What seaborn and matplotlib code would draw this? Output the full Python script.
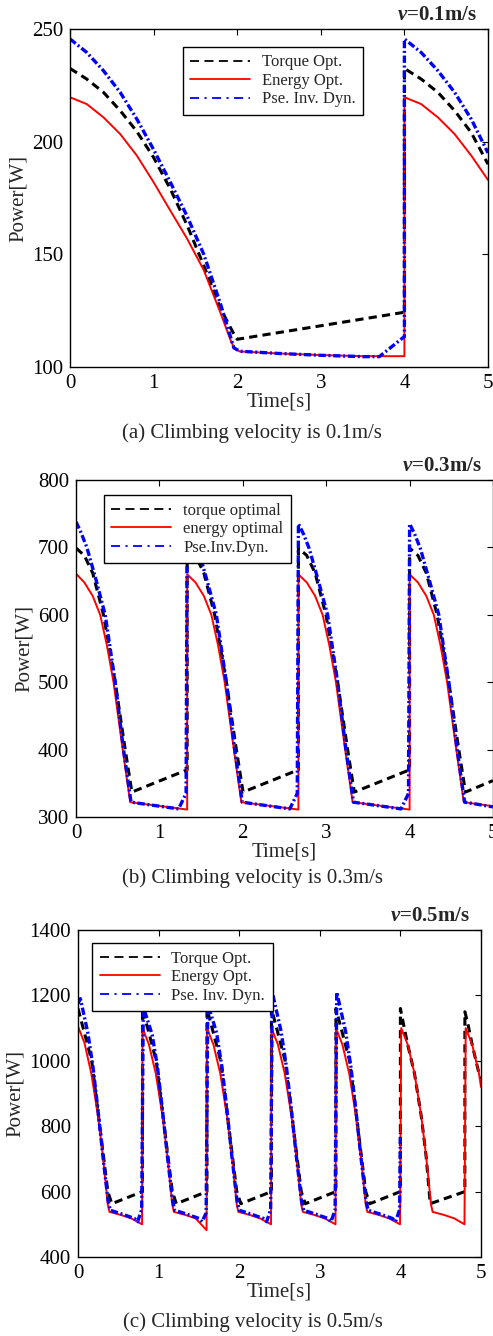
import numpy as np
import pandas as pd
import matplotlib
matplotlib.use("Agg")
import matplotlib.pyplot as plt
import seaborn as sns

# ---- data ----
# (a) v = 0.1 m/s
t1_torque = [0, 0.2, 0.4, 0.6, 0.8, 1.0, 1.2, 1.4, 1.6, 1.8, 1.97, 2.0, 4.0,
             4.0, 4.2, 4.4, 4.6, 4.8, 5.0]
p1_torque = [232.5, 227.8, 221.9, 213.8, 204.5, 193, 179, 163, 145, 126, 113.9, 112.3, 124.3,
             232.5, 227.8, 221.9, 213.8, 204, 190]
t1_energy = [0, 0.2, 0.4, 0.6, 0.8, 1.0, 1.2, 1.4, 1.6, 1.8, 1.93, 1.97, 2.03, 2.5, 3.0, 3.5, 4.0,
             4.0, 4.2, 4.4, 4.6, 4.8, 5.0]
p1_energy = [219.7, 216.7, 210.8, 203.4, 193.8, 182, 169.4, 157, 143, 124, 111, 108.2, 106.9, 106, 105.3, 104.8, 104.8,
             219.7, 216.7, 210.8, 203.4, 193.8, 183]
t1_pseudo = [0, 0.2, 0.4, 0.6, 0.8, 1.0, 1.2, 1.4, 1.6, 1.8, 1.96, 2.03, 2.5, 3.0, 3.5, 3.7, 4.0,
             4.0, 4.2, 4.4, 4.6, 4.8, 5.0]
p1_pseudo = [245.6, 239.6, 231.5, 221.9, 210, 196.5, 182, 167, 150, 128, 108.5, 107, 106, 105.2, 104.6, 104.6, 113.5,
             245.6, 239.6, 231.5, 221.9, 210, 195]

# (b) v = 0.3 m/s
t2_torque = [0, 0.1, 0.2, 0.33, 0.47, 0.59, 0.67, 1.333,
             1.333, 1.433, 1.533, 1.663, 1.803, 1.923, 2.003, 2.667,
             2.667, 2.767, 2.867, 2.997, 3.137, 3.257, 3.337, 4.0,
             4.0, 4.1, 4.2, 4.33, 4.47, 4.59, 4.67, 5.0]
p2_torque = [699, 688, 662, 600, 500, 400, 337, 370,
             699, 688, 662, 600, 500, 400, 337, 370,
             699, 688, 662, 600, 500, 400, 337, 370,
             699, 688, 662, 600, 500, 400, 337, 354]
t2_energy = [0, 0.1, 0.2, 0.29, 0.37, 0.45, 0.56, 0.65, 1.333,
             1.333, 1.433, 1.533, 1.623, 1.703, 1.783, 1.893, 1.983, 2.667,
             2.667, 2.767, 2.867, 2.957, 3.037, 3.117, 3.227, 3.317, 4.0,
             4.0, 4.1, 4.2, 4.29, 4.37, 4.45, 4.56, 4.65, 5.0]
p2_energy = [661, 648, 628, 600, 555, 500, 400, 322, 311,
             660, 648, 628, 600, 555, 500, 400, 322, 311,
             660, 648, 628, 600, 555, 500, 400, 322, 311,
             660, 648, 628, 600, 555, 500, 400, 322, 316]
t2_pseudo = [0, 0.06, 0.13, 0.24, 0.35, 0.47, 0.57, 0.66, 1.23, 1.32,
             1.333, 1.393, 1.463, 1.573, 1.683, 1.803, 1.903, 1.993, 2.563, 2.653,
             2.667, 2.727, 2.797, 2.907, 3.017, 3.137, 3.237, 3.327, 3.897, 3.987,
             4.0, 4.06, 4.13, 4.24, 4.35, 4.47, 4.57, 4.66, 5.0]
p2_pseudo = [738, 722, 700, 652, 600, 500, 400, 322, 312, 335,
             735, 720, 698, 650, 600, 500, 400, 322, 312, 335,
             735, 720, 698, 650, 600, 500, 400, 322, 312, 335,
             735, 720, 698, 650, 600, 500, 400, 322, 315]

# (c) v = 0.5 m/s
t3_torque = [0, 0.08, 0.17, 0.27, 0.37, 0.42, 0.80,
             0.80, 0.88, 0.97, 1.07, 1.17, 1.22, 1.60,
             1.60, 1.68, 1.77, 1.87, 1.97, 2.02, 2.40,
             2.40, 2.48, 2.57, 2.67, 2.77, 2.82, 3.20,
             3.20, 3.28, 3.37, 3.47, 3.57, 3.62, 4.00,
             4.00, 4.04, 4.09, 4.175, 4.26, 4.32, 4.37, 4.80,
             4.80, 4.84, 4.89, 4.975, 5.00]
p3_torque = [1160, 1085, 1000, 800, 600, 563, 600,
             1160, 1085, 1000, 800, 600, 563, 600,
             1160, 1085, 1000, 800, 600, 563, 600,
             1160, 1085, 1000, 800, 600, 563, 600,
             1160, 1085, 1000, 800, 600, 563, 600,
             1160, 1110, 1050, 961, 829, 706, 563, 600,
             1150, 1110, 1050, 961, 945]
t3_energy = [0, 0.08, 0.165, 0.25, 0.31, 0.37, 0.39, 0.54, 0.66, 0.795,
             0.80, 0.88, 0.965, 1.05, 1.11, 1.17, 1.19, 1.34, 1.46, 1.595,
             1.60, 1.68, 1.765, 1.85, 1.91, 1.97, 1.99, 2.14, 2.26, 2.395,
             2.40, 2.48, 2.565, 2.65, 2.71, 2.77, 2.79, 2.94, 3.06, 3.195,
             3.20, 3.28, 3.365, 3.45, 3.51, 3.57, 3.59, 3.74, 3.86, 3.995,
             4.01, 4.09, 4.175, 4.26, 4.32, 4.38, 4.40, 4.55, 4.67, 4.795,
             4.81, 4.89, 4.975, 5.00]
p3_energy = [1105, 1055, 961, 829, 706, 560, 538, 528, 518, 500,
             1100, 1050, 961, 829, 706, 560, 538, 528, 518, 482,
             1100, 1050, 961, 829, 706, 560, 538, 528, 518, 500,
             1100, 1050, 961, 829, 706, 560, 538, 528, 518, 500,
             1100, 1050, 961, 829, 706, 560, 538, 528, 518, 500,
             1100, 1050, 961, 829, 706, 560, 538, 528, 518, 500,
             1100, 1050, 961, 920]
t3_pseudo = [0, 0.03, 0.124, 0.186, 0.248, 0.31, 0.372, 0.40, 0.55, 0.70, 0.74, 0.79,
             0.81, 0.92, 0.986, 1.048, 1.11, 1.172, 1.20, 1.35, 1.50, 1.54, 1.59,
             1.61, 1.72, 1.786, 1.848, 1.91, 1.972, 2.00, 2.15, 2.30, 2.34, 2.39,
             2.41, 2.52, 2.586, 2.648, 2.71, 2.772, 2.80, 2.95, 3.10, 3.14, 3.19,
             3.21, 3.32, 3.386, 3.448, 3.51, 3.572, 3.60, 3.75, 3.90, 3.94, 3.99,
             4.00]
p3_pseudo = [1175, 1190, 1083, 981, 849, 706, 574, 543, 531, 518, 508, 545,
             1165, 1080, 981, 849, 706, 574, 543, 531, 518, 508, 535,
             1175, 1085, 981, 849, 706, 574, 543, 531, 518, 508, 545,
             1210, 1090, 981, 849, 706, 574, 543, 531, 518, 508, 545,
             1210, 1090, 981, 849, 706, 574, 543, 531, 518, 508, 545,
             780]

yticks1 = [100, 150, 200, 250]
yticks2 = [300, 400, 500, 600, 700, 800]
yticks3 = [400, 600, 800, 1000, 1200, 1400]
xticks = [0, 1, 2, 3, 4, 5]

labels_a = ["Torque Opt.", "Energy Opt.", "Pse. Inv. Dyn."]
labels_b = ["torque optimal", "energy optimal", "Pse.Inv.Dyn."]
labels_c = ["Torque Opt.", "Energy Opt.", "Pse. Inv. Dyn."]

sns.set_style("white")
plt.rcParams['font.family'] = ['Liberation Serif', 'DejaVu Serif']
plt.rcParams['mathtext.fontset'] = 'custom'
plt.rcParams['mathtext.it'] = 'Liberation Serif:bold:italic'
plt.rcParams['mathtext.rm'] = 'Liberation Serif:bold'

fig = plt.figure(figsize=(4.93, 13.36), dpi=100)

W, H = 493.0, 1336.0


def make_axes(left, right, top, bottom):
    return fig.add_axes([left / W, 1 - bottom / H, (right - left) / W, (bottom - top) / H])


def draw_panel(ax, series, labels, ylim, yticks, tag, legend_anchor):
    styles = [
        dict(color="black", lw=2.2, linestyle=(0, (2.7, 1.7))),
        dict(color="#ff0000", lw=1.4, linestyle="-"),
        dict(color="#0000ff", lw=2.4, linestyle=(0, (2.2, 0.8, 0.6, 0.8))),
    ]
    for (t, p), lab, st in zip(series, labels, styles):
        df = pd.DataFrame({"t": t, "p": p})
        sns.lineplot(data=df, x="t", y="p", ax=ax, estimator=None, sort=False,
                     label=lab, **st)
    ax.set_xlim(0, 5)
    ax.set_ylim(*ylim)
    ax.set_xticks(xticks)
    ax.set_yticks(yticks)
    ax.tick_params(direction="in", top=True, right=True, length=4, width=0.8,
                   labelsize=15, pad=5, colors="black")
    ax.set_xlabel("Time[s]", fontsize=15, labelpad=0)
    ax.set_ylabel("Power[W]", fontsize=15, labelpad=3)
    for s in ax.spines.values():
        s.set_color("black")
        s.set_linewidth(1.0)
    ax.text(0.974, 1.042, r"$v$=" + tag, transform=ax.transAxes, ha="right",
            va="center", fontsize=15, fontweight="bold")
    leg = ax.legend(loc="upper left", bbox_to_anchor=legend_anchor, fontsize=12,
                    frameon=True, fancybox=False, edgecolor="black", framealpha=1,
                    handlelength=3.6, handletextpad=0.7, labelspacing=0.15,
                    borderpad=0.45, borderaxespad=0)
    leg.get_frame().set_linewidth(1.0)
    hl = leg.get_lines()
    hl[0].set_linewidth(1.3)
    hl[0].set_linestyle((0, (5, 3)))
    hl[1].set_linewidth(1.3)
    hl[2].set_linewidth(1.3)
    hl[2].set_linestyle((0, (5, 3, 1.2, 3)))


ax1 = make_axes(70, 488, 29, 367)
draw_panel(ax1, [(t1_torque, p1_torque), (t1_energy, p1_energy), (t1_pseudo, p1_pseudo)],
           labels_a, (100, 250), yticks1, "0.1m/s", (0.27, 0.947))
fig.text(252 / W, 1 - 433 / H, "(a) Climbing velocity is 0.1m/s", ha="center",
         va="center", fontsize=15)

ax2 = make_axes(76, 493, 480, 817)
draw_panel(ax2, [(t2_torque, p2_torque), (t2_energy, p2_energy), (t2_pseudo, p2_pseudo)],
           labels_b, (300, 800), yticks2, "0.3m/s", (0.067, 0.955))
fig.text(253 / W, 1 - 878 / H, "(b) Climbing velocity is 0.3m/s", ha="center",
         va="center", fontsize=15)

ax3 = make_axes(78, 481, 930, 1257)
draw_panel(ax3, [(t3_torque, p3_torque), (t3_energy, p3_energy), (t3_pseudo, p3_pseudo)],
           labels_c, (400, 1400), yticks3, "0.5m/s", (0.035, 0.96))
fig.text(253 / W, 1 - 1322 / H, "(c) Climbing velocity is 0.5m/s", ha="center",
         va="center", fontsize=15)

fig.savefig("out.png", dpi=100)
